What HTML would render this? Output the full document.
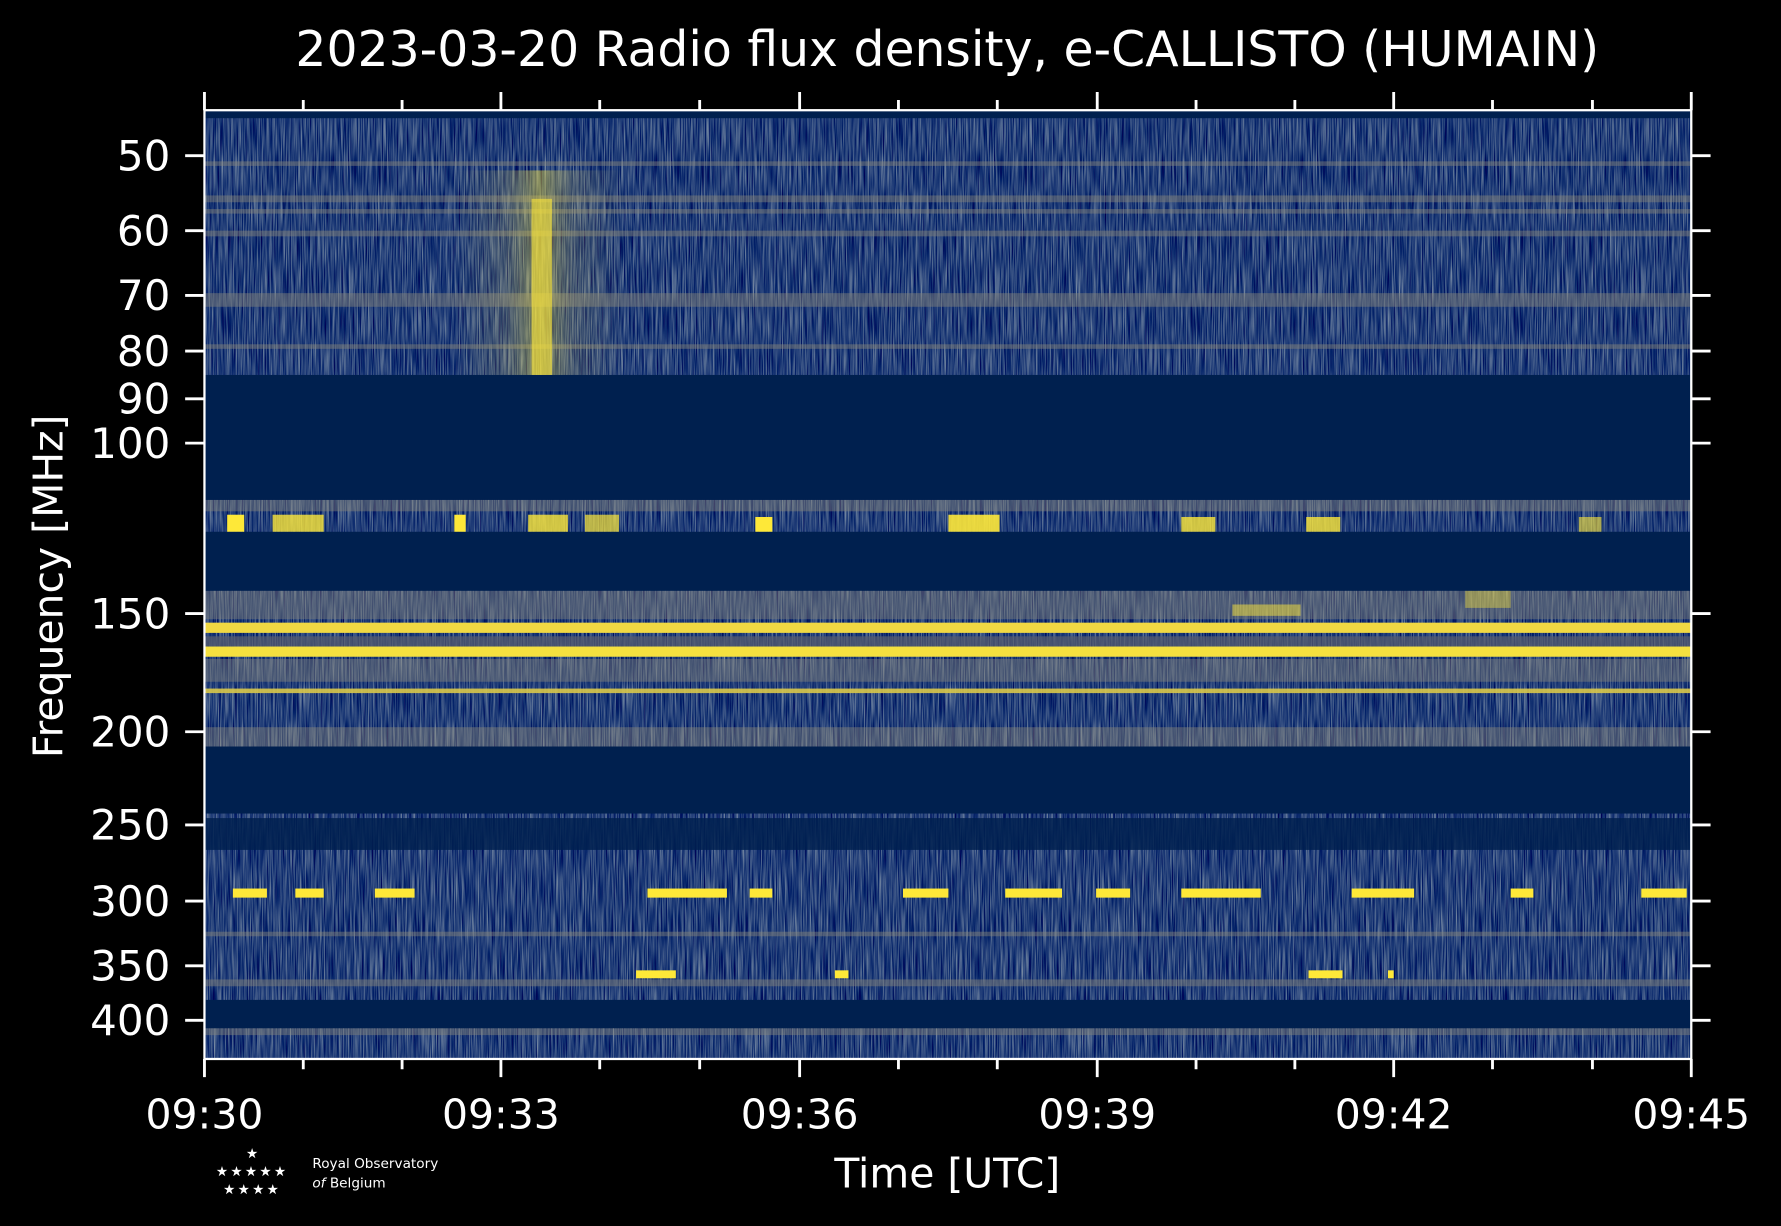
<!DOCTYPE html>
<html><head><meta charset="utf-8"><style>
html,body{margin:0;padding:0;background:#000;}
svg{display:block;}
text{font-family:"DejaVu Sans","Liberation Sans",sans-serif;fill:#fff;}
</style></head><body>
<svg width="1781" height="1226" viewBox="0 0 1568 1079" preserveAspectRatio="none" xmlns="http://www.w3.org/2000/svg">
<defs>
<filter id="nz" x="180" y="97" width="1309" height="835" filterUnits="userSpaceOnUse" color-interpolation-filters="sRGB">
<feTurbulence type="fractalNoise" baseFrequency="0.9 0.03" numOctaves="2" seed="3"/>
<feColorMatrix type="matrix" values="0.9 0 0 0 -0.31  0.8 0 0 0 -0.15  0.45 0 0 0 0.25  0 0 0 0 1"/>
</filter>
<linearGradient id="burst" x1="0" x2="1">
<stop offset="0" stop-color="#c9b95c" stop-opacity="0"/>
<stop offset="0.3" stop-color="#c9b95c" stop-opacity="0.4"/>
<stop offset="0.5" stop-color="#fee838" stop-opacity="0.8"/>
<stop offset="0.7" stop-color="#c9b95c" stop-opacity="0.4"/>
<stop offset="1" stop-color="#c9b95c" stop-opacity="0"/>
</linearGradient>
</defs>
<rect width="1568" height="1079" fill="#000"/>
<rect x="180" y="97" width="1309" height="835" fill="#25407a" filter="url(#nz)"/>
<g fill="#00204f">
<rect x="180" y="97" width="1309" height="7"/>
<rect x="180" y="330" width="1309" height="110"/>
<rect x="180" y="468" width="1309" height="52"/>
<rect x="180" y="657" width="1309" height="59"/>
<rect x="180" y="720" width="1309" height="28" opacity="0.85"/>
<rect x="180" y="880" width="1309" height="25"/>
</g>
<g fill="#8a877a" opacity="0.45">
<rect x="180" y="142" width="1309" height="4"/>
<rect x="180" y="172" width="1309" height="6"/>
<rect x="180" y="184" width="1309" height="4"/>
<rect x="180" y="203" width="1309" height="5"/>
<rect x="180" y="258" width="1309" height="12"/>
<rect x="180" y="303" width="1309" height="4"/>
<rect x="180" y="440" width="1309" height="10"/>
<rect x="180" y="520" width="1309" height="25"/>
<rect x="180" y="580" width="1309" height="20"/>
<rect x="180" y="640" width="1309" height="17"/>
<rect x="180" y="820" width="1309" height="4"/>
<rect x="180" y="862" width="1309" height="6"/>
<rect x="180" y="905" width="1309" height="6"/>
</g>
<rect x="400" y="150" width="150" height="180" fill="url(#burst)" opacity="0.55"/>
<rect x="468" y="175" width="18" height="155" fill="#fee838" opacity="0.6"/>
<rect x="180" y="548" width="1309" height="9" fill="#f0d843"/>
<rect x="180" y="569" width="1309" height="9" fill="#f5e03f"/>
<rect x="180" y="606" width="1309" height="4" fill="#d9c84a" opacity="0.9"/>
<rect x="180" y="560" width="1309" height="9" fill="#5a5e6e" opacity="0.7"/>
<g fill="#fee838">
<rect x="200" y="453" width="15" height="15"/><rect x="240" y="453" width="45" height="15" opacity="0.8"/>
<rect x="400" y="453" width="10" height="15"/><rect x="465" y="453" width="35" height="15" opacity="0.8"/>
<rect x="515" y="453" width="30" height="15" opacity="0.7"/><rect x="665" y="455" width="15" height="13"/>
<rect x="835" y="453" width="45" height="15" opacity="0.9"/><rect x="1040" y="455" width="30" height="13" opacity="0.8"/>
<rect x="1150" y="455" width="30" height="13" opacity="0.8"/><rect x="1390" y="455" width="20" height="13" opacity="0.6"/>
<rect x="1085" y="532" width="60" height="10" opacity="0.5"/><rect x="1290" y="520" width="40" height="15" opacity="0.4"/>
<rect x="205" y="782" width="30" height="8"/><rect x="260" y="782" width="25" height="8"/><rect x="330" y="782" width="35" height="8"/>
<rect x="570" y="782" width="70" height="8"/><rect x="660" y="782" width="20" height="8"/><rect x="795" y="782" width="40" height="8"/>
<rect x="885" y="782" width="50" height="8"/><rect x="965" y="782" width="30" height="8"/><rect x="1040" y="782" width="70" height="8"/>
<rect x="1190" y="782" width="55" height="8"/><rect x="1330" y="782" width="20" height="8"/><rect x="1445" y="782" width="40" height="8"/>
<rect x="560" y="854" width="35" height="7"/><rect x="735" y="854" width="12" height="7"/><rect x="1152" y="854" width="30" height="7"/><rect x="1222" y="854" width="5" height="7"/>
</g>
<rect x="180" y="97" width="1309" height="835" fill="none" stroke="#fff" stroke-width="2"/>
<g stroke="#fff" stroke-width="2.5">
<path d="M180 932v16M441 932v16M704 932v16M966 932v16M1227 932v16M1489 932v16M180 97v-16M441 97v-16M704 97v-16M966 97v-16M1227 97v-16M1489 97v-16"/>
<path d="M267 932v9M354 932v9M528 932v9M616 932v9M791 932v9M878 932v9M1053 932v9M1140 932v9M1314 932v9M1402 932v9M267 97v-9M354 97v-9M528 97v-9M616 97v-9M791 97v-9M878 97v-9M1053 97v-9M1140 97v-9M1314 97v-9M1402 97v-9"/>
<path d="M163 137h17M163 203h17M163 260h17M163 309h17M163 351h17M163 390h17M163 540h17M163 644h17M163 726h17M163 793h17M163 850h17M163 898h17"/>
<path d="M1489 137h17M1489 203h17M1489 260h17M1489 309h17M1489 351h17M1489 390h17M1489 540h17M1489 644h17M1489 726h17M1489 793h17M1489 850h17M1489 898h17"/>
</g>
<text x="834" y="58" font-size="43" text-anchor="middle">2023-03-20 Radio flux density, e-CALLISTO (HUMAIN)</text>
<g font-size="37" text-anchor="end">
<text x="150" y="150">50</text><text x="150" y="216">60</text><text x="150" y="273">70</text><text x="150" y="322">80</text>
<text x="150" y="364">90</text><text x="150" y="403">100</text><text x="150" y="553">150</text><text x="150" y="657">200</text>
<text x="150" y="739">250</text><text x="150" y="806">300</text><text x="150" y="863">350</text><text x="150" y="911">400</text>
</g>
<g font-size="36" text-anchor="middle">
<text x="180" y="993">09:30</text><text x="441" y="993">09:33</text><text x="704" y="993">09:36</text>
<text x="966" y="993">09:39</text><text x="1227" y="993">09:42</text><text x="1489" y="993">09:45</text>
</g>
<text x="834" y="1045" font-size="36" text-anchor="middle">Time [UTC]</text>
<text transform="translate(55 516) rotate(-90)" font-size="36" text-anchor="middle">Frequency [MHz]</text>
<g font-size="12">
<text x="222" y="1019" text-anchor="middle">★</text>
<text x="222" y="1035" text-anchor="middle" letter-spacing="2">★★★★★</text>
<text x="222" y="1051" text-anchor="middle" letter-spacing="2">★★★★</text>
<text x="275" y="1028" font-size="12">Royal Observatory</text>
<text x="275" y="1045" font-size="12"><tspan font-style="italic">of</tspan> Belgium</text>
</g>
</svg>
</body></html>
